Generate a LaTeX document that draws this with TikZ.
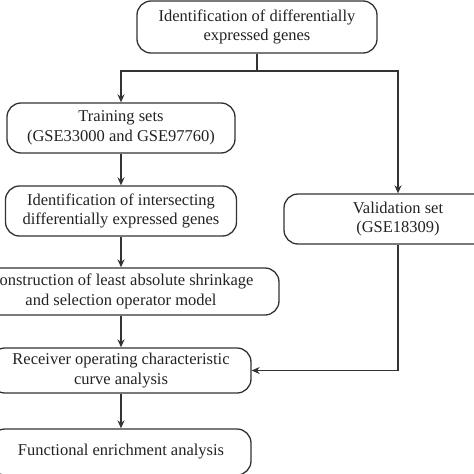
\documentclass[tikz,border=0pt]{standalone}
\usepackage{fontspec}
\setmainfont{Liberation Serif}
\usetikzlibrary{arrows.meta}
\definecolor{ln}{HTML}{333333}
\definecolor{tx}{HTML}{222222}
\tikzset{
  box/.style={draw=ln, line width=1.3pt, rounded corners=14pt, align=center, text=tx,
    font=\fontsize{16.5}{19.5}\selectfont, inner sep=0pt},
  conn/.style={draw=ln, line width=1.3pt},
  arr/.style={conn, -{Stealth[length=8pt,width=7pt]}}
}
\begin{document}
\begin{tikzpicture}[x=1pt,y=-1pt]
\useasboundingbox (0,0) rectangle (474,474);
\clip (0,0) rectangle (474,474);
\node[box, minimum width=240pt, minimum height=52pt] (b1) at (257,27) {Identification of differentially\\expressed genes};
\node[box, minimum width=228pt, minimum height=50pt] (b2) at (121,128) {Training sets\\(GSE33000 and GSE97760)};
\node[box, minimum width=231pt, minimum height=50pt] (b3) at (121,211) {Identification of intersecting\\differentially expressed genes};
\node[box, minimum width=228pt, minimum height=50pt] (val) at (398,219) {Validation set\\(GSE18309)};
\node[box, minimum width=316pt, minimum height=47pt] (b4) at (121,291.5) {Construction of least absolute shrinkage\\and selection operator model};
\node[box, minimum width=260pt, minimum height=45pt] (b5) at (121,370.5) {Receiver operating characteristic\\curve analysis};
\node[box, minimum width=260pt, minimum height=46pt] (b6) at (121,452) {Functional enrichment analysis};
\coordinate (j) at (257,71);
\draw[conn] (b1.south) -- (j);
\draw[arr] (j) -| (b2.north);
\draw[arr] (j) -| (val.north);
\draw[arr] (b2) -- (b3);
\draw[arr] (b3) -- (b4);
\draw[arr] (b4) -- (b5);
\draw[arr] (b5) -- (b6);
\draw[arr] (val.south) |- (b5.east);
\end{tikzpicture}
\end{document}
